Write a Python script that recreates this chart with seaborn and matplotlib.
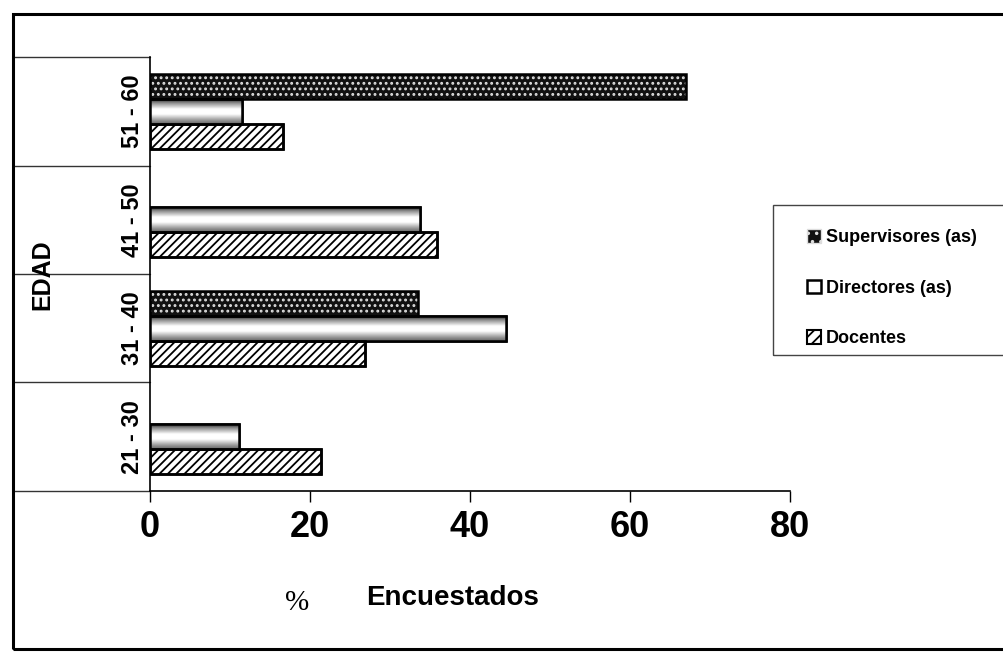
import numpy as np
import pandas as pd
import matplotlib
matplotlib.use("Agg")
import matplotlib.pyplot as plt
import matplotlib.transforms as mtransforms
from matplotlib.patches import Patch, Rectangle
import seaborn as sns

# -------------------------------
# DATA
# -------------------------------
edades = ["51 - 60", "41 - 50", "31 - 40", "21 - 30"]
grupos = ["Supervisores (as)", "Directores (as)", "Docentes"]
supervisores = [67.0, 0.0, 33.5, 0.0]
directores = [11.5, 33.8, 44.5, 11.1]
docentes = [16.6, 35.9, 26.9, 21.4]
x_ticks = [0, 20, 40, 60, 80]

df = pd.DataFrame({
    "edad": edades * len(grupos),
    "grupo": np.repeat(grupos, len(edades)),
    "valor": supervisores + directores + docentes,
})

# -------------------------------
# STYLE
# -------------------------------
sns.set_theme(style="white")
plt.rcParams["font.family"] = ["Liberation Sans", "DejaVu Sans"]
plt.rcParams["hatch.linewidth"] = 1.3
plt.rcParams["text.color"] = "black"

fig = plt.figure(figsize=(10.04, 6.53), dpi=100)
ax = fig.add_axes([0.1494, 0.2481, 0.6375, 0.6646])

sns.barplot(
    data=df, y="edad", x="valor", hue="grupo",
    order=edades, hue_order=grupos, orient="h", width=0.69,
    palette=["#111111", "#fefefe", "#ffffff"], edgecolor="black",
    linewidth=1.8, errorbar=None, legend=False, ax=ax,
)

# -------------------------------
# BAR FILLS
# -------------------------------
sup_bars, dir_bars, doc_bars = ax.containers

SUP_FACE = "#111111"
SUP_HATCH = "..."

for p in sup_bars:
    p.set_facecolor(SUP_FACE)
    p.set_edgecolor("#dddddd")
    p.set_hatch(SUP_HATCH)
    p.set_linewidth(0)

# cylinder-like shading for Directores
grad = np.interp(np.linspace(0, 1, 64),
                 [0, 0.15, 0.4, 0.6, 0.85, 1],
                 [0.15, 0.55, 1.0, 1.0, 0.6, 0.4])
for p in dir_bars:
    p.set_facecolor("none")
    x0, y0, w, h = p.get_x(), p.get_y(), p.get_width(), p.get_height()
    im = ax.imshow(grad[:, None], cmap="gray", vmin=0, vmax=1, aspect="auto",
                   extent=(x0, x0 + w, y0 + h, y0), origin="upper", zorder=1.5)
    im.set_clip_path(p)

for p in doc_bars:
    p.set_facecolor("white")
    p.set_edgecolor("black")
    p.set_hatch("////")

# black outline on every (non-empty) bar
for cont in ax.containers:
    for p in cont:
        if p.get_width() <= 0:
            p.set_visible(False)
            continue
        ax.add_patch(Rectangle((p.get_x(), p.get_y()), p.get_width(), p.get_height(),
                               fill=False, edgecolor="black", linewidth=1.8, zorder=3))

ax.set_xlim(0, 80)
ax.set_ylim(len(edades) - 0.5, -0.5)

# -------------------------------
# AXES
# -------------------------------
for s in ["top", "right"]:
    ax.spines[s].set_visible(False)
for s in ["left", "bottom"]:
    ax.spines[s].set_color("black")
    ax.spines[s].set_linewidth(1.2)

ax.set_xticks(x_ticks)
ax.set_xticklabels([str(t) for t in x_ticks], fontsize=26, fontweight="bold")
ax.tick_params(axis="x", bottom=True, direction="out", length=8, width=1,
               color="black", pad=6, labelcolor="black")
ax.set_yticks(range(len(edades)))
ax.set_yticklabels(edades, rotation=90, va="center", fontsize=17, fontweight="bold")
ax.tick_params(axis="y", length=0, pad=4, labelcolor="black")
ax.set_xlabel("")
ax.set_ylabel("")

# long category separators into the label area
trans = mtransforms.blended_transform_factory(ax.transAxes, ax.transData)
for b in np.arange(len(edades) + 1) - 0.5:
    ax.plot([-0.212, 0], [b, b], transform=trans, clip_on=False,
            color="#333333", lw=1)

# -------------------------------
# LABELS
# -------------------------------
fig.text(42 / 1004, 1 - 275 / 653, "EDAD", rotation=90, ha="center", va="center",
         fontsize=18, fontweight="bold", color="black")
fig.text(297 / 1004, 1 - 603 / 653, "%", ha="center", va="center",
         fontsize=21, family=["Liberation Serif", "DejaVu Serif"], color="black")
fig.text(453 / 1004, 1 - 598 / 653, "Encuestados", ha="center", va="center",
         fontsize=20, fontweight="bold", color="black")

# -------------------------------
# LEGEND
# -------------------------------
handles = [
    Patch(facecolor=SUP_FACE, edgecolor="#dddddd", hatch=".."),
    Patch(facecolor="white", edgecolor="black", linewidth=1.8),
    Patch(facecolor="white", edgecolor="black", hatch="///", linewidth=1.5),
]
fig.legend(handles, grupos, loc="upper left", bbox_to_anchor=(798 / 1004, 1 - 220 / 653),
           frameon=False, borderpad=0, handlelength=0.8, handleheight=0.8,
           handletextpad=0.25, labelspacing=1.85,
           prop={"weight": "bold", "size": 13})
fig.add_artist(Rectangle((773 / 1004, 1 - 355 / 653), 0.3, 150 / 653,
                         transform=fig.transFigure, fill=False, edgecolor="#444444",
                         lw=1, clip_on=False))

# outer frame
fig.add_artist(Rectangle((13 / 1004, 4 / 653), 1.05, 1 - 18 / 653,
                         transform=fig.transFigure, fill=False, edgecolor="black",
                         lw=2.2, clip_on=False))

fig.savefig("out.png", dpi=100, facecolor="white")
